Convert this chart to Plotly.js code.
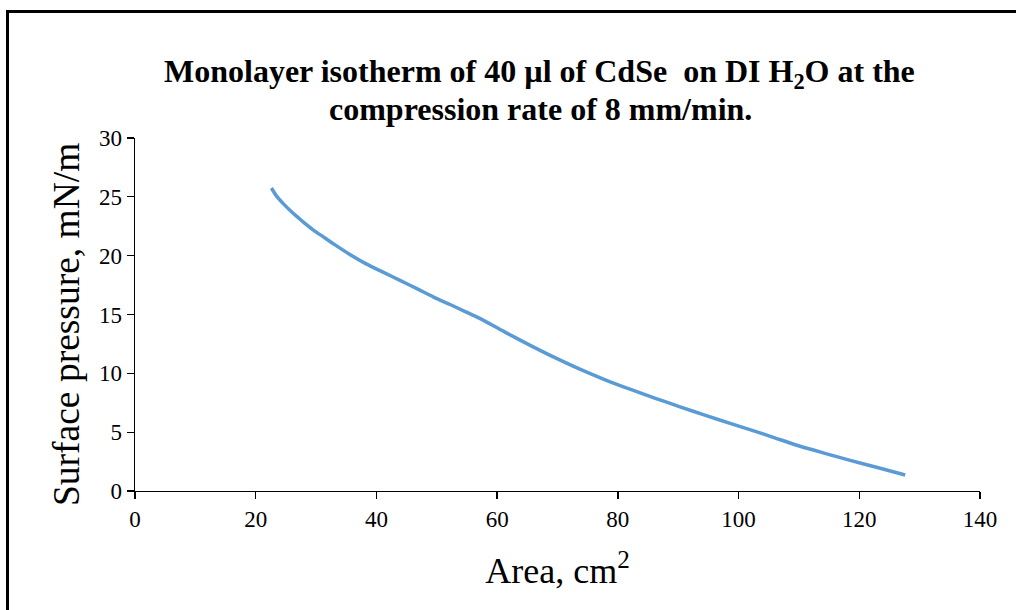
<!DOCTYPE html>
<html>
<head>
<meta charset="utf-8">
<script src="https://cdn.plot.ly/plotly-3.0.1.min.js"></script>
<style>
  html, body { margin: 0; padding: 0; background: #fff; overflow: hidden; }
  #wrap { position: relative; width: 1016px; height: 610px; }
  #chart { width: 1016px; height: 610px; }
  #frame {
    position: absolute; left: 6px; top: 10px; width: 2000px; height: 2000px;
    border-left: 3px solid #000; border-top: 3px solid #000; pointer-events: none;
  }
</style>
</head>
<body>
<div id="wrap">
  <div id="chart"></div>
  <div id="frame"></div>
</div>
<script>
// Compression isotherm: trough area (cm²) vs surface pressure (mN/m)
const area = [22.6, 23.4, 24.6, 26.2, 27.8, 29.5, 31.2, 32.9, 35.6, 38.3, 41.1, 43.9, 46.7, 49.4, 52.2, 54.7, 57.2, 61.3, 65.4, 69.5, 73.7, 77.9, 82.0, 86.1, 90.3, 94.4, 98.6, 102.0, 106.1, 110.2, 114.3, 118.5, 123.0, 127.6];
const pressure = [25.75, 25.1, 24.4, 23.6, 22.9, 22.2, 21.6, 21.0, 20.1, 19.3, 18.6, 17.9, 17.2, 16.5, 15.85, 15.25, 14.65, 13.5, 12.4, 11.35, 10.35, 9.45, 8.65, 7.9, 7.15, 6.45, 5.75, 5.2, 4.5, 3.8, 3.2, 2.6, 2.0, 1.36];

const xTicks = [0, 20, 40, 60, 80, 100, 120, 140];
const yTicks = [0, 5, 10, 15, 20, 25, 30];

const titleLines = [
  'Monolayer isotherm of 40 µl of CdSe  on DI H<sub>2</sub>O at the',
  'compression rate of 8 mm/min.'
];
const xTitle = 'Area, cm<sup>2</sup>';
const yTitle = 'Surface pressure, mN/m';

const serif = 'Liberation Serif, Times New Roman, serif';

// plot box in pixels, used to place the text blocks
const W = 1016, H = 610;
const M = { l: 135, r: 36, t: 138, b: 119 };
const plotH = H - M.t - M.b;
const plotW = W - M.l - M.r;
const py = px => (H - M.b - px) / plotH;   // pixel row -> paper y
const pxx = px => (px - M.l) / plotW;      // pixel column -> paper x

const trace = {
  x: area,
  y: pressure,
  type: 'scatter',
  mode: 'lines',
  line: { color: '#5B9BD5', width: 3.5, shape: 'spline', smoothing: 0.6 },
  hoverinfo: 'skip'
};

const axisCommon = {
  showgrid: false,
  zeroline: false,
  showline: true,
  linecolor: '#000',
  linewidth: 1.3,
  ticks: 'outside',
  ticklen: 7,
  tickwidth: 1.3,
  tickcolor: '#000',
  tickfont: { family: serif, size: 23, color: '#000' },
  automargin: false,
  fixedrange: true
};

const layout = {
  width: W,
  height: H,
  margin: M,
  paper_bgcolor: '#ffffff',
  plot_bgcolor: '#ffffff',
  showlegend: false,
  xaxis: Object.assign({}, axisCommon, {
    range: [0, 140],
    tickvals: xTicks,
    ticktext: xTicks.map(String),
    title: {
      text: xTitle,
      font: { family: serif, size: 36, color: '#000' },
      standoff: 27
    }
  }),
  yaxis: Object.assign({}, axisCommon, {
    range: [0, 30],
    tickvals: yTicks,
    ticktext: yTicks.map(String)
  }),
  annotations: [
    {
      text: '<b>' + titleLines[0] + '</b>',
      xref: 'paper', yref: 'paper',
      x: pxx(539), y: py(74),
      xanchor: 'center', yanchor: 'middle',
      showarrow: false,
      font: { family: serif, size: 32, color: '#000' }
    },
    {
      text: '<b>' + titleLines[1] + '</b>',
      xref: 'paper', yref: 'paper',
      x: pxx(540), y: py(109),
      xanchor: 'center', yanchor: 'middle',
      showarrow: false,
      font: { family: serif, size: 32, color: '#000' }
    },
    {
      text: yTitle,
      xref: 'paper', yref: 'paper',
      x: pxx(66), y: py(325),
      xanchor: 'center', yanchor: 'middle',
      textangle: -90,
      showarrow: false,
      font: { family: serif, size: 37.5, color: '#000' }
    }
  ]
};

Plotly.newPlot('chart', [trace], layout, { staticPlot: true, displayModeBar: false });
</script>
</body>
</html>
